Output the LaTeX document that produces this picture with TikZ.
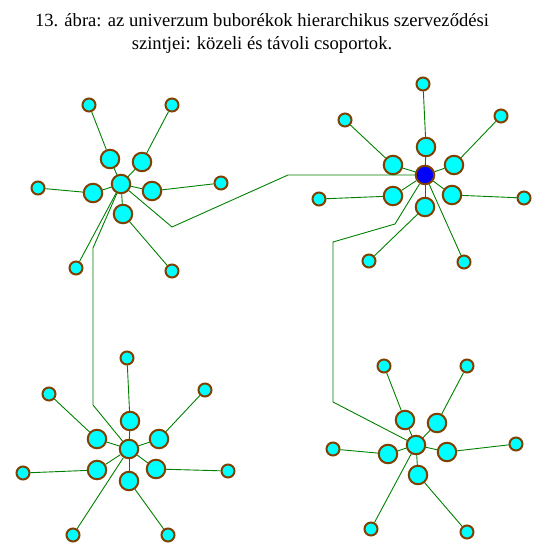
\documentclass[tikz,border=0pt]{standalone}
\usepackage{fontspec}
\setmainfont{Liberation Serif}
\usepackage{tikz}
\definecolor{bubblecyan}{RGB}{0, 255, 255}
\definecolor{rimbrown}{RGB}{128, 64, 0}
\definecolor{linkgreen}{RGB}{0, 128, 0}
\definecolor{coreblue}{RGB}{0, 0, 255}
\tikzset{
  bubble/.style={circle, draw=rimbrown, fill=bubblecyan, line width=2pt, inner sep=0pt, minimum size=18.5pt},
  twig/.style={bubble, minimum size=13pt},
  core/.style={bubble, fill=coreblue},
  link/.style={draw=linkgreen, line width=0.9pt}
}
\begin{document}
\begin{tikzpicture}[x=1pt, y=-1pt]
    \useasboundingbox (0,0) rectangle (560,560);
    \node[font=\fontsize{18.6}{23}\selectfont, align=center] (title) at (262,34)
      {13. ábra: az univerzum buborékok hierarchikus szerveződési\\ szintjei: közeli és távoli csoportok.};

    % top left group
    \node[bubble] (aC) at (121,184) {};
    \node[bubble] (aNW) at (110,159) {};
    \node[bubble] (aNE) at (142,162) {};
    \node[bubble] (aW) at (93,193) {};
    \node[bubble] (aE) at (152,191) {};
    \node[bubble] (aS) at (123,214) {};
    \node[twig] (aoNW) at (89,105) {};
    \node[twig] (aoNE) at (172,105) {};
    \node[twig] (aoW) at (38,188) {};
    \node[twig] (aoE) at (221,183) {};
    \node[twig] (aoSE) at (172,271) {};
    \node[twig] (aoSW) at (76,268) {};

    % top right group
    \node[core] (bC) at (425,175) {};
    \node[bubble] (bN) at (426,147) {};
    \node[bubble] (bNW) at (393,165) {};
    \node[bubble] (bNE) at (454,165) {};
    \node[bubble] (bW) at (393,196) {};
    \node[bubble] (bE) at (452,195) {};
    \node[bubble] (bS) at (425,207) {};
    \node[twig] (boN) at (423,84) {};
    \node[twig] (boNW) at (345,120) {};
    \node[twig] (boNE) at (501,116) {};
    \node[twig] (boW) at (319,199) {};
    \node[twig] (boE) at (524,198) {};
    \node[twig] (boSW) at (369,261) {};
    \node[twig] (boSE) at (464,262) {};

    % bottom left group
    \node[bubble] (cC) at (129,449) {};
    \node[bubble] (cN) at (130,421) {};
    \node[bubble] (cNW) at (97,439) {};
    \node[bubble] (cNE) at (159,439) {};
    \node[bubble] (cW) at (97,470) {};
    \node[bubble] (cE) at (156,469) {};
    \node[bubble] (cS) at (129,481) {};
    \node[twig] (coN) at (127,358) {};
    \node[twig] (coNW) at (49,394) {};
    \node[twig] (coNE) at (205,390) {};
    \node[twig] (coW) at (23,473) {};
    \node[twig] (coE) at (228,471) {};
    \node[twig] (coSE) at (168,535) {};
    \node[twig] (coSW) at (73,535) {};

    % bottom right group
    \node[bubble] (dC) at (416,445) {};
    \node[bubble] (dNW) at (405,420) {};
    \node[bubble] (dNE) at (437,423) {};
    \node[bubble] (dW) at (388,454) {};
    \node[bubble] (dE) at (447,452) {};
    \node[bubble] (dS) at (418,475) {};
    \node[twig] (doNW) at (384,366) {};
    \node[twig] (doNE) at (467,366) {};
    \node[twig] (doW) at (333,449) {};
    \node[twig] (doE) at (516,444) {};
    \node[twig] (doSE) at (467,532) {};
    \node[twig] (doSW) at (371,529) {};

    \foreach \g/\p/\q in {a/NW/NW, a/NE/NE, a/W/W, a/E/E, a/S/SE,
                          b/N/N, b/NW/NW, b/NE/NE, b/W/W, b/E/E, b/S/SW,
                          c/N/N, c/NW/NW, c/NE/NE, c/W/W, c/E/E, c/S/SE,
                          d/NW/NW, d/NE/NE, d/W/W, d/E/E, d/S/SE} {
      \draw[link] (\g o\q) -- (\g\p);
      \draw[link] (\g\p) -- (\g C);
    }
    \draw[link] (aoSW) -- (aC);
    \draw[link] (boSE) -- (bC);
    \draw[link] (coSW) -- (cC);
    \draw[link] (doSW) -- (dC);

    % links between the groups
    \draw[link] (aC) -- (93,248) -- (93,405) -- (cC);
    \draw[link] (aC) -- (172,227) -- (288,175) -- (bC);
    \draw[link] (bC) -- (395,224) -- (333,242) -- (333,402) -- (dC);
  \end{tikzpicture}
\end{document}
